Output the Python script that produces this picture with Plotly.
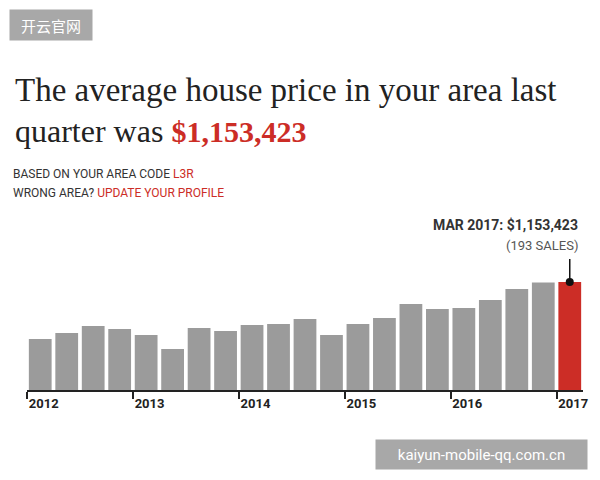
import plotly.graph_objects as go

quarters = ["Q1 2012", "Q2 2012", "Q3 2012", "Q4 2012",
            "Q1 2013", "Q2 2013", "Q3 2013", "Q4 2013",
            "Q1 2014", "Q2 2014", "Q3 2014", "Q4 2014",
            "Q1 2015", "Q2 2015", "Q3 2015", "Q4 2015",
            "Q1 2016", "Q2 2016", "Q3 2016", "Q4 2016",
            "Q1 2017"]
prices = [808600, 844900, 887200, 869100,
          832800, 748100, 875100, 857000,
          893300, 899300, 929600, 832800,
          899300, 935600, 1020300, 990100,
          996100, 1044500, 1111100, 1150000,
          1153423]
year_labels = ["2012", "2013", "2014", "2015", "2016", "2017"]
year_tick_pos = [-0.5, 3.5, 7.5, 11.5, 15.5, 19.5]

W, H = 600, 480
ML, MR, MT, MB = 27, 13, 200, 90
PW, PH = W - ML - MR, H - MT - MB
GRAY = "#9b9b9b"
RED = "#cc2d26"

colors = [GRAY] * (len(prices) - 1) + [RED]
xs = list(range(len(prices)))

fig = go.Figure()
fig.add_trace(go.Bar(x=xs, y=prices, marker=dict(color=colors, line=dict(width=0)),
                     width=0.86, hoverinfo="skip", customdata=quarters))
fig.add_trace(go.Scatter(x=[xs[-1]], y=[prices[-1]], mode="markers",
                         marker=dict(color="#111111", size=8), hoverinfo="skip"))

fig.add_shape(type="line", xref="x", yref="y", ysizemode="pixel",
              yanchor=prices[-1], x0=xs[-1], x1=xs[-1], y0=0, y1=23,
              line=dict(color="#111111", width=1.5))


def px(x):
    return (x - ML) / PW


def py(y):
    return (H - MB - y) / PH


ann = []
ann.append(dict(x=px(13), y=py(90), xref="paper", yref="paper", xanchor="left", yanchor="middle",
                text="The average house price in your area last", showarrow=False,
                font=dict(family="Liberation Serif", size=33, color="#222222")))
ann.append(dict(x=px(13), y=py(131), xref="paper", yref="paper", xanchor="left", yanchor="middle",
                text="quarter was <b><span style='color:%s;font-size:30px'>$1,153,423</span></b>" % RED,
                showarrow=False,
                font=dict(family="Liberation Serif", size=32, color="#222222")))
ann.append(dict(x=px(11), y=py(174), xref="paper", yref="paper", xanchor="left", yanchor="middle",
                text="BASED ON YOUR AREA CODE <span style='color:%s'>L3R</span>" % RED,
                showarrow=False, font=dict(family="Roboto", size=12, color="#333333")))
ann.append(dict(x=px(11), y=py(193), xref="paper", yref="paper", xanchor="left", yanchor="middle",
                text="WRONG AREA? <span style='color:%s'>UPDATE YOUR PROFILE</span>" % RED,
                showarrow=False, font=dict(family="Roboto", size=12, color="#333333")))
ann.append(dict(x=px(584), y=py(225), xref="paper", yref="paper", xanchor="right", yanchor="middle",
                text="<b>MAR 2017: $1,153,423</b>", showarrow=False,
                font=dict(family="Roboto", size=14, color="#333333")))
ann.append(dict(x=px(584), y=py(245), xref="paper", yref="paper", xanchor="right", yanchor="middle",
                text="(193 SALES)", showarrow=False,
                font=dict(family="Roboto", size=13, color="#555555")))
# watermarks
ann.append(dict(x=px(51), y=py(25), xref="paper", yref="paper", xanchor="center", yanchor="middle",
                text="开云官网", showarrow=False, bgcolor="#a8a8a8", width=74, height=22,
                borderpad=4, font=dict(family="Noto Sans CJK SC", size=15, color="#ffffff")))
ann.append(dict(x=px(484.5), y=py(454.5), xref="paper", yref="paper", xanchor="center", yanchor="middle",
                text="kaiyun-mobile-qq.com.cn", showarrow=False, bgcolor="#a8a8a8", width=203, height=21,
                borderpad=4, font=dict(family="Roboto", size=15, color="#ffffff")))

fig.update_layout(
    width=W, height=H, margin=dict(l=ML, r=MR, t=MT, b=MB),
    paper_bgcolor="white", plot_bgcolor="white", showlegend=False,
    annotations=ann,
    xaxis=dict(range=[-0.5, 20.5], tickvals=year_tick_pos, ticktext=year_labels,
               showgrid=False, zeroline=False, showline=True, linecolor="#222222", linewidth=2,
               ticks="outside", ticklen=7, tickwidth=1.5, tickcolor="#222222",
               ticklabelposition="outside right",
               tickfont=dict(family="Roboto", size=13, color="#222222", weight="bold")),
    yaxis=dict(range=[500000, 500000 + PH * 6050], visible=False, showgrid=False, zeroline=False),
)

fig.write_html("out.html")
